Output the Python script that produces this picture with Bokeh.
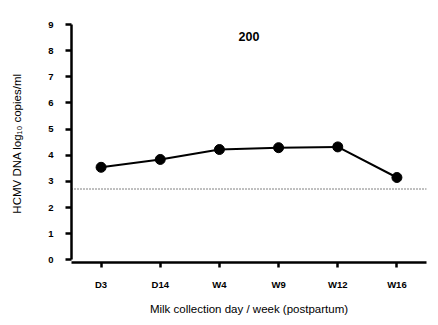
from bokeh.plotting import figure
from bokeh.models import Span, Label, Range1d, FixedTicker, ColumnDataSource
from bokeh.embed import file_html
from bokeh.resources import INLINE

categories = ["D3", "D14", "W4", "W9", "W12", "W16"]
values = [3.54, 3.84, 4.22, 4.29, 4.32, 3.15]
cutoff = 2.71
title_text = "200"
y_ticks = [0, 1, 2, 3, 4, 5, 6, 7, 8, 9]

xs = list(range(len(categories)))
src = ColumnDataSource(dict(x=xs, y=values))

FONT = "Liberation Sans"

p = figure(width=438, height=325, output_backend="svg", toolbar_location=None,
           x_range=Range1d(-0.5, 5.5), y_range=Range1d(-0.1, 9),
           min_border_left=71, min_border_right=12, min_border_top=24, min_border_bottom=63)
p.outline_line_color = None
p.xgrid.grid_line_color = None
p.ygrid.grid_line_color = None
p.background_fill_color = "white"
p.border_fill_color = "white"

# x axis
xa = p.xaxis[0]
xa.ticker = FixedTicker(ticks=xs)
xa.major_label_overrides = {i: c for i, c in enumerate(categories)}
xa.minor_tick_line_color = None
xa.axis_line_width = 2.5
xa.axis_line_color = "black"
xa.major_tick_line_color = "black"
xa.major_tick_line_width = 2.5
xa.major_tick_out = 5
xa.major_tick_in = 0
xa.major_label_text_font = FONT
xa.major_label_text_font_style = "bold"
xa.major_label_text_font_size = "9.5px"
xa.major_label_text_color = "black"
xa.major_label_standoff = 11
xa.axis_label = "Milk collection day / week (postpartum)"
xa.axis_label_text_font = FONT
xa.axis_label_text_font_style = "normal"
xa.axis_label_text_font_size = "11.5px"
xa.axis_label_text_color = "black"
xa.axis_label_standoff = 10

# y axis
ya = p.yaxis[0]
ya.ticker = FixedTicker(ticks=y_ticks)
ya.bounds = (0, 9)
ya.minor_tick_line_color = None
ya.axis_line_width = 2.5
ya.axis_line_color = "black"
ya.major_tick_line_color = "black"
ya.major_tick_line_width = 2.5
ya.major_tick_out = 6
ya.major_tick_in = 0
ya.major_label_text_font = FONT
ya.major_label_text_font_style = "bold"
ya.major_label_text_font_size = "9.5px"
ya.major_label_text_color = "black"
ya.major_label_standoff = 12
ya.axis_label = "HCMV DNA log\u2081\u2080 copies/ml"
ya.axis_label_text_font = FONT
ya.axis_label_text_font_style = "normal"
ya.axis_label_text_font_size = "11.5px"
ya.axis_label_text_color = "black"
ya.axis_label_standoff = 22

p.add_layout(Span(location=cutoff, dimension="width", line_color="black",
                  line_width=1, line_dash="1 2"))

p.line("x", "y", source=src, line_color="black", line_width=2)
p.scatter("x", "y", source=src, size=10, fill_color="black", line_color="black")

p.add_layout(Label(x=2.5, y=8.54, text=title_text, text_align="center",
                   text_baseline="middle", text_font=FONT, text_font_style="bold",
                   text_font_size="12.5px", text_color="black"))

open("out.html", "w").write(file_html(p, INLINE))
